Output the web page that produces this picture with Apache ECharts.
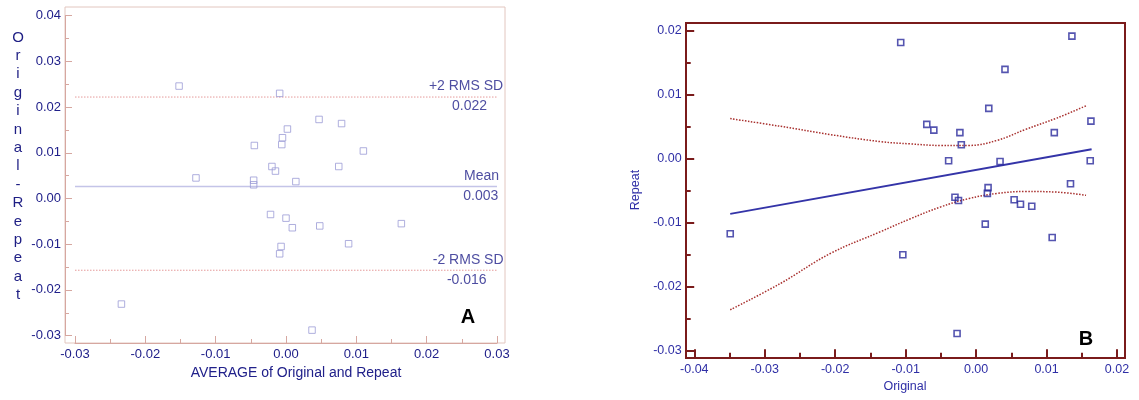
<!DOCTYPE html>
<html>
<head>
<meta charset="utf-8">
<script src="https://cdn.jsdelivr.net/npm/echarts@6/dist/echarts.min.js"></script>
<style>
html,body{margin:0;padding:0;background:#fff;}
#chart{width:1139px;height:400px;}
</style>
</head>
<body>
<div id="chart"></div>
<script>
// ---- Panel A: Bland-Altman (average vs difference) ----
const baAverage = [-0.0152, -0.0009, 0.0047, 0.0079, 0.0002, -0.0005, -0.0006, -0.0045, 0.0110, -0.0020,
                   -0.0015, 0.0075, -0.0128, -0.0046, -0.0046, 0.0014, -0.0022, 0.0000, 0.0009, 0.0048,
                   0.0164, -0.0007, -0.0009, 0.0089, 0.0037, -0.0234];
const baDifference = [0.0246, 0.0230, 0.0173, 0.0164, 0.0152, 0.0133, 0.0118, 0.0116, 0.0104, 0.0070,
                      0.0060, 0.0070, 0.0045, 0.0040, 0.0030, 0.0037, -0.0035, -0.0043, -0.0064, -0.0060,
                      -0.0055, -0.0105, -0.0121, -0.0099, -0.0288, -0.0231];
const limitNames = ['+2 RMS SD', 'Mean', '-2 RMS SD'];
const limitValues = [0.0222, 0.0026, -0.0157];
const limitSpan = [-0.03, 0.03];
const aXTicks = [-0.03, 0.03];   // x axis min / max
const aYTicks = [-0.03, 0.04];   // y axis min / max

// ---- Panel B: Original vs Repeat ----
const original = [-0.0107, 0.0018, -0.0070, -0.0060, -0.0023, -0.0021, -0.0039, 0.0034, 0.0017, 0.0016,
                  -0.0030, -0.0025, 0.0013, -0.0104, -0.0027, 0.0136, 0.0041, 0.0163, 0.0111, 0.0162,
                  0.0134, 0.0054, 0.0063, 0.0079, 0.0108, -0.0349];
const repeat = [0.0182, 0.0079, 0.0054, 0.0045, 0.0041, 0.0022, -0.0003, -0.0004, -0.0045, -0.0054,
                -0.0060, -0.0065, -0.0102, -0.0150, -0.0273, 0.0192, 0.0140, 0.0059, 0.0041, -0.0003,
                -0.0039, -0.0064, -0.0071, -0.0074, -0.0123, -0.0117];
const regX = [-0.0349, 0.0164];
const regY = [-0.0086, 0.0015];
const bandX = [-0.0349, -0.0278, -0.0207, -0.0136, -0.0094, -0.0050, -0.0010, 0.0030, 0.0070, 0.0115, 0.0156];
const bandUpper = [0.0063, 0.0051, 0.0038, 0.0027, 0.00235, 0.0021, 0.0021, 0.0029, 0.0046, 0.0064, 0.0083];
const bandLower = [-0.0236, -0.0195, -0.0148, -0.0114, -0.0094, -0.0075, -0.0062, -0.0054, -0.0051, -0.0052, -0.0057];
const bXTicks = [-0.04, 0.02];
const bYTicks = [-0.03, 0.02];

// ---- styling / layout ----
const FONT = '"Liberation Sans", Arial, sans-serif';
const aText = '#20208a';
const aAxis = '#d6a7a0';
const aFrame = '#e2c6bf';
const aPoint = '#9b9bd6';
const bText = '#2f2fa6';
const bAxis = '#7a1b1b';
const bPoint = '#2b2b9c';
const labelAnchorName = [0.0256, 0.0278, 0.0259];
const labelAnchorValue = [0.0261, 0.0277, 0.0257];

function fmt2(v){ if (Math.abs(v) < 1e-9) return '0.00'; return v.toFixed(2); }
function zip(a, b){ return a.map((v, i) => [v, b[i]]); }

const chart = echarts.init(document.getElementById('chart'), null, {renderer: 'canvas'});

const limitSeries = limitValues.map((v, i) => ({
  type: 'line', xAxisIndex: 1, yAxisIndex: 1, silent: true, symbol: 'none',
  data: limitSpan.map(x => [x, v]),
  lineStyle: i === 1 ? {color: '#c4c4e8', width: 1.5, type: 'solid'} : {color: '#e59a9a', width: 1, type: [1.5, 1.5]},
  z: 1
}));

const limitLabelData = [];
limitValues.forEach((v, i) => {
  limitLabelData.push({value: [labelAnchorName[i], v], label: {position: 'top', distance: 3, formatter: limitNames[i]}});
  limitLabelData.push({value: [labelAnchorValue[i], v], label: {position: 'bottom', distance: 2, formatter: v.toFixed(3)}});
});

function axisCommon(color, width, tickLen, minorLen, textColor, fontSize, margin){
  return {
    type: 'value',
    axisLine: {show: true, onZero: false, lineStyle: {color: color, width: width}},
    axisTick: {show: true, inside: true, length: tickLen, lineStyle: {color: color, width: width}},
    minorTick: {show: true, splitNumber: 2, length: minorLen, lineStyle: {color: color, width: width}},
    splitLine: {show: false},
    minorSplitLine: {show: false},
    axisLabel: {color: textColor, fontSize: fontSize, fontFamily: FONT, margin: margin, formatter: fmt2},
    interval: 0.01
  };
}

const option = {
  animation: false,
  backgroundColor: '#ffffff',
  grid: [
    {left: 65, top: 7, width: 440, height: 336, show: true, borderColor: aFrame, borderWidth: 1, backgroundColor: 'transparent', outerBoundsMode: 'none'},
    {left: 75, top: 15.7, width: 422, height: 319.9, outerBoundsMode: 'none'},
    {left: 686, top: 23, width: 439, height: 335, show: true, borderColor: bAxis, borderWidth: 2, backgroundColor: 'transparent', outerBoundsMode: 'none'},
    {left: 694.3, top: 31, width: 422.7, height: 319.7, outerBoundsMode: 'none'}
  ],
  xAxis: [
    {type: 'value', gridIndex: 0, show: false, min: 0, max: 1},
    Object.assign(axisCommon(aAxis, 1, 7, 4, aText, 13, 5), {gridIndex: 1, min: aXTicks[0], max: aXTicks[1], offset: 7.4, position: 'bottom'}),
    {type: 'value', gridIndex: 2, show: false, min: 0, max: 1},
    Object.assign(axisCommon(bAxis, 2, 8.5, 5, bText, 12.5, 5), {gridIndex: 3, min: bXTicks[0], max: bXTicks[1], offset: 7, position: 'bottom'})
  ],
  yAxis: [
    {type: 'value', gridIndex: 0, show: false, min: 0, max: 1},
    Object.assign(axisCommon(aAxis, 1, 7, 4, aText, 13, 4), {gridIndex: 1, min: aYTicks[0], max: aYTicks[1], offset: 10, position: 'left'}),
    {type: 'value', gridIndex: 2, show: false, min: 0, max: 1},
    Object.assign(axisCommon(bAxis, 2, 8.5, 5, bText, 12.5, 4), {gridIndex: 3, min: bYTicks[0], max: bYTicks[1], offset: 8.6, position: 'left'})
  ],
  series: [
    ...limitSeries,
    {
      type: 'scatter', xAxisIndex: 1, yAxisIndex: 1, silent: true,
      symbol: 'circle', symbolSize: 1,
      itemStyle: {color: 'rgba(0,0,0,0)'},
      label: {show: true, color: aText, fontSize: 14, fontFamily: FONT},
      data: limitLabelData, z: 3
    },
    {
      type: 'scatter', xAxisIndex: 1, yAxisIndex: 1, silent: true,
      symbol: 'rect', symbolSize: 6.5,
      itemStyle: {color: 'rgba(0,0,0,0)', borderColor: aPoint, borderWidth: 1},
      data: zip(baAverage, baDifference), z: 4
    },
    {
      type: 'line', xAxisIndex: 3, yAxisIndex: 3, silent: true, symbol: 'none',
      data: zip(regX, regY),
      lineStyle: {color: '#3434a8', width: 2}, z: 2
    },
    {
      type: 'line', xAxisIndex: 3, yAxisIndex: 3, silent: true, symbol: 'none', smooth: 0.4,
      data: zip(bandX, bandUpper),
      lineStyle: {color: '#a8302e', width: 1.5, type: 'dotted'}, z: 2
    },
    {
      type: 'line', xAxisIndex: 3, yAxisIndex: 3, silent: true, symbol: 'none', smooth: 0.4,
      data: zip(bandX, bandLower),
      lineStyle: {color: '#a8302e', width: 1.5, type: 'dotted'}, z: 2
    },
    {
      type: 'scatter', xAxisIndex: 3, yAxisIndex: 3, silent: true,
      symbol: 'rect', symbolSize: 6,
      itemStyle: {color: 'rgba(0,0,0,0)', borderColor: bPoint, borderWidth: 1.6},
      data: zip(original, repeat), z: 4
    }
  ],
  graphic: [
    {type: 'text', x: 18, y: 166.3, silent: true,
     style: {text: 'Original-Repeat'.split('').join('\n'), font: '15px ' + FONT, fill: '#1e1e84', align: 'center', verticalAlign: 'middle', lineHeight: 18.4}},
    {type: 'text', x: 296, y: 373, silent: true,
     style: {text: 'AVERAGE of Original and Repeat', font: '14px ' + FONT, fill: aText, align: 'center', verticalAlign: 'middle'}},
    {type: 'text', x: 468, y: 317.5, silent: true,
     style: {text: 'A', font: 'bold 20px ' + FONT, fill: '#000', align: 'center', verticalAlign: 'middle'}},
    {type: 'text', x: 636, y: 190, rotation: Math.PI / 2, silent: true,
     style: {text: 'Repeat', font: '12.5px ' + FONT, fill: bText, align: 'center', verticalAlign: 'middle'}},
    {type: 'text', x: 905, y: 387, silent: true,
     style: {text: 'Original', font: '12.5px ' + FONT, fill: bText, align: 'center', verticalAlign: 'middle'}},
    {type: 'text', x: 1086, y: 339, silent: true,
     style: {text: 'B', font: 'bold 20px ' + FONT, fill: '#000', align: 'center', verticalAlign: 'middle'}}
  ]
};

chart.setOption(option);
</script>
</body>
</html>
